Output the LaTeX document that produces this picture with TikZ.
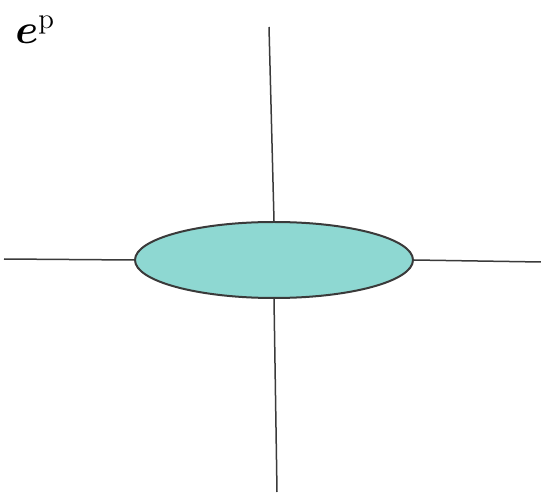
\documentclass[tikz,border=0pt]{standalone}
\usepackage{amsmath}
\usetikzlibrary{shapes.geometric,positioning}
\definecolor{SpotInk}{HTML}{3A3A3A}
\definecolor{SpotFill}{HTML}{8ED8D2}
\tikzset{
  every node/.style={text=black},
  spot/.style={ellipse, draw=SpotInk, line width=1pt, fill=SpotFill, inner sep=0pt,
    minimum width=139pt, minimum height=38pt},
  arm/.style={draw=SpotInk, line width=0.75pt},
}
\begin{document}
\begin{tikzpicture}[x=0.5pt,y=0.5pt]
  % frame of the picture: 541 x 493 units
  \useasboundingbox (0,0) rectangle (541,493);
  % the inclusion
  \node[spot] (ell) at (274,233) {};
  % free ends of the four arms
  \coordinate (up) at (269,466);
  \coordinate (down) at (277,1);
  \coordinate (left) at (4,234);
  \coordinate (right) at (541,231);
  \draw[arm] (ell.north) -- (up);
  \draw[arm] (ell.south) -- (down);
  \draw[arm] (ell.west) -- (left);
  \draw[arm] (ell.east) -- (right);
  % label
  \node[anchor=base west, inner sep=0pt, font=\fontsize{19.5}{22}\selectfont] (lab) at (15,449) {$\boldsymbol{e}^{\mathrm{p}}$};
\end{tikzpicture}
\end{document}
